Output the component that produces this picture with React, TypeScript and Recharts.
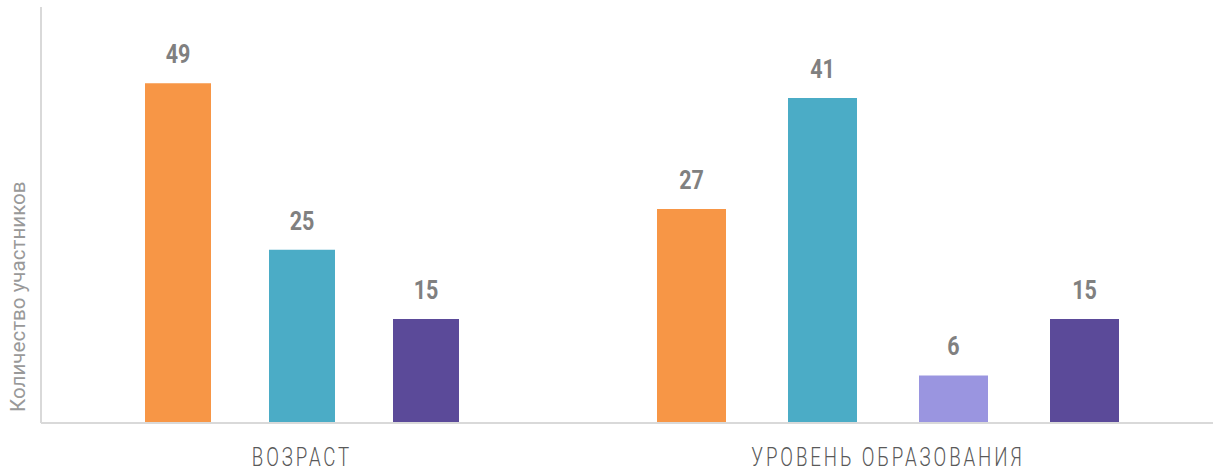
import React from 'react';
import { BarChart, Bar, XAxis, YAxis, LabelList, Label } from 'recharts';

// categories and values
const categories = ['ВОЗРАСТ', 'УРОВЕНЬ ОБРАЗОВАНИЯ'];
const ageValues = [49, 25, 15]; // orange, teal, purple
const eduValues = [27, 41, 6, 15]; // orange, teal, lavender, purple
const yTitle = 'Количество участников';

const ageColors = ['#F79646', '#4BACC6', '#5B4A99'];
const eduColors = ['#F79646', '#4BACC6', '#9A95E0', '#5B4A99'];
// in the source the first three education bars sit on a secondary axis
const eduAxis = ['b', 'b', 'b', 'a'];

const toRow = (category: string, values: number[]) => {
  const row: Record<string, string | number> = { category };
  values.forEach((v, i) => (row['s' + i] = v));
  return row;
};

const ageData = [toRow(categories[0], ageValues)];
const eduData = [toRow(categories[1], eduValues)];

const AXIS = '#D9D9D9';
const FONT = 'Roboto, "DejaVu Sans", sans-serif';

// no condensed fonts installed, so squeeze Roboto horizontally
const CategoryTick = (props: any) => {
  const { x, y, payload } = props;
  return (
    <text
      transform={`translate(${x} ${y + 43}) scale(0.72 1)`}
      textAnchor="middle"
      fill="#595959"
      fontFamily={FONT}
      fontWeight={300}
      fontSize={26}
      letterSpacing={4}
    >
      {payload.value}
    </text>
  );
};

const ValueLabel = (props: any) => {
  const { x, y, width, value } = props;
  return (
    <text
      transform={`translate(${x + width / 2} ${y - 20}) scale(0.86 1)`}
      textAnchor="middle"
      fill="#808080"
      fontFamily={FONT}
      fontWeight={700}
      fontSize={25}
    >
      {value}
    </text>
  );
};

const YTitle = (props: any) => {
  const { x, y, height } = props.viewBox;
  const tx = x + 25;
  const ty = y + height - 11;
  return (
    <text
      transform={`translate(${tx} ${ty}) rotate(-90) scale(0.98 1)`}
      textAnchor="start"
      fill="#999999"
      fontFamily={FONT}
      fontSize={21}
    >
      {yTitle}
    </text>
  );
};

export default function App() {
  return (
    <div style={{ position: 'absolute', left: 0, top: 0, width: 1213, height: 470, background: '#fff' }}>
      <div style={{ position: 'absolute', left: 0, top: 0 }}>
        <BarChart
          width={563}
          height={470}
          data={ageData}
          barGap={58}
          margin={{ top: 7, right: 0, bottom: 0, left: 0 }}
        >
          <XAxis
            dataKey="category"
            height={47}
            axisLine={{ stroke: AXIS, strokeWidth: 2 }}
            tickLine={false}
            tickSize={0}
            tickMargin={0}
            tick={<CategoryTick />}
          />
          <YAxis
            width={41}
            domain={[0, 60]}
            tick={false}
            tickLine={false}
            axisLine={{ stroke: AXIS, strokeWidth: 2 }}
          >
            <Label content={<YTitle />} />
          </YAxis>
          {ageValues.map((_, i) => (
            <Bar key={i} dataKey={'s' + i} fill={ageColors[i]} barSize={66} isAnimationActive={false}>
              <LabelList dataKey={'s' + i} content={<ValueLabel />} />
            </Bar>
          ))}
        </BarChart>
      </div>
      <div style={{ position: 'absolute', left: 563, top: 0 }}>
        <BarChart
          width={650}
          height={470}
          data={eduData}
          barGap={62}
          margin={{ top: 7, right: 0, bottom: 0, left: 0 }}
        >
          <XAxis
            dataKey="category"
            height={47}
            axisLine={{ stroke: AXIS, strokeWidth: 2 }}
            tickLine={false}
            tickSize={0}
            tickMargin={0}
            tick={<CategoryTick />}
          />
          <YAxis yAxisId="a" hide domain={[0, 60]} />
          <YAxis yAxisId="b" hide domain={[0, 52.5]} />
          {eduValues.map((_, i) => (
            <Bar
              key={i}
              yAxisId={eduAxis[i]}
              dataKey={'s' + i}
              fill={eduColors[i]}
              barSize={69}
              isAnimationActive={false}
            >
              <LabelList dataKey={'s' + i} content={<ValueLabel />} />
            </Bar>
          ))}
        </BarChart>
      </div>
    </div>
  );
}
